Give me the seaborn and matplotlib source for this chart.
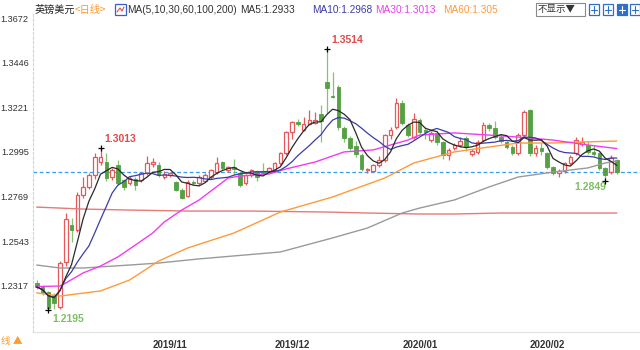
import numpy as np
import pandas as pd
import matplotlib
matplotlib.use("Agg")
import matplotlib.pyplot as plt
import matplotlib.lines as mlines
import seaborn as sns
from matplotlib.patches import Rectangle

# ---------------- data ----------------
opens = [1.2330, 1.2310, 1.2285, 1.2271, 1.2210, 1.2438, 1.2625, 1.2600, 1.2777, 1.2818,
         1.2878, 1.2945, 1.2945, 1.2868, 1.2929, 1.2853, 1.2838, 1.2860, 1.2853, 1.2888,
         1.2935, 1.2929, 1.2870, 1.2880, 1.2843, 1.2802, 1.2770, 1.2845, 1.2838, 1.2850,
         1.2868, 1.2893, 1.2944, 1.2903, 1.2918, 1.2888, 1.2838, 1.2878, 1.2898, 1.2900,
         1.2895, 1.2903, 1.2939, 1.2989, 1.3096, 1.3146, 1.3106, 1.3136, 1.3141, 1.3186,
         1.3348, 1.3280, 1.3323, 1.3116, 1.3065, 1.3025, 1.2980, 1.2905, 1.2900, 1.2929,
         1.2954, 1.3080, 1.3121, 1.3242, 1.3131, 1.3070, 1.3156, 1.3105, 1.3055, 1.3090,
         1.3045, 1.2979, 1.3015, 1.3030, 1.3065, 1.2985, 1.2995, 1.3055, 1.3131, 1.3116,
         1.3070, 1.3045, 1.3020, 1.2990, 1.3080, 1.3207, 1.2989, 1.3015, 1.2989, 1.2919,
         1.2888, 1.2900, 1.2939, 1.2989, 1.3035, 1.3030, 1.2995, 1.2989, 1.2914, 1.2893,
         1.2954]
highs = [1.2345, 1.2320, 1.2290, 1.2282, 1.2445, 1.2686, 1.2660, 1.2790, 1.2868, 1.2890,
         1.2990, 1.3013, 1.2990, 1.2915, 1.2954, 1.2860, 1.2875, 1.2870, 1.2895, 1.2975,
         1.2965, 1.2945, 1.2900, 1.2893, 1.2850, 1.2810, 1.2855, 1.2855, 1.2878, 1.2890,
         1.2910, 1.2969, 1.2950, 1.2925, 1.2959, 1.2895, 1.2885, 1.2910, 1.2905, 1.2939,
         1.2920, 1.2945, 1.2995, 1.3100, 1.3150, 1.3160, 1.3171, 1.3207, 1.3197, 1.3232,
         1.3514, 1.3399, 1.3333, 1.3125, 1.3075, 1.3050, 1.2990, 1.2915, 1.2935, 1.2975,
         1.3085, 1.3120, 1.3267, 1.3255, 1.3140, 1.3191, 1.3166, 1.3120, 1.3100, 1.3100,
         1.3050, 1.3015, 1.3040, 1.3070, 1.3075, 1.3010, 1.3055, 1.3146, 1.3140, 1.3150,
         1.3080, 1.3055, 1.3030, 1.3090, 1.3205, 1.3210, 1.3030, 1.3040, 1.2995, 1.2925,
         1.2910, 1.2945, 1.2980, 1.3070, 1.3070, 1.3050, 1.3030, 1.2995, 1.2920, 1.2980,
         1.2960]
lows = [1.2300, 1.2270, 1.2195, 1.2200, 1.2200, 1.2420, 1.2539, 1.2590, 1.2760, 1.2805,
        1.2860, 1.2930, 1.2850, 1.2855, 1.2830, 1.2800, 1.2830, 1.2802, 1.2845, 1.2880,
        1.2920, 1.2870, 1.2860, 1.2868, 1.2795, 1.2755, 1.2765, 1.2828, 1.2830, 1.2845,
        1.2860, 1.2885, 1.2905, 1.2895, 1.2880, 1.2820, 1.2830, 1.2870, 1.2850, 1.2885,
        1.2888, 1.2895, 1.2930, 1.2980, 1.3060, 1.3125, 1.3100, 1.3130, 1.3135, 1.3045,
        1.3192, 1.3268, 1.3106, 1.3045, 1.3005, 1.2970, 1.2900, 1.2890, 1.2895, 1.2920,
        1.2945, 1.3060, 1.3110, 1.3130, 1.3070, 1.3060, 1.3085, 1.3060, 1.3045, 1.3030,
        1.2960, 1.2955, 1.3005, 1.3020, 1.3000, 1.2975, 1.2985, 1.3045, 1.3100, 1.3060,
        1.3040, 1.3010, 1.2980, 1.2980, 1.3070, 1.2975, 1.2975, 1.2980, 1.2910, 1.2880,
        1.2870, 1.2890, 1.2930, 1.2980, 1.3025, 1.2985, 1.2975, 1.2905, 1.2849, 1.2885,
        1.2885]
closes = [1.2312, 1.2285, 1.2206, 1.2231, 1.2433, 1.2656, 1.2600, 1.2777, 1.2818, 1.2878,
          1.2969, 1.2970, 1.2863, 1.2904, 1.2838, 1.2818, 1.2863, 1.2828, 1.2888, 1.2939,
          1.2942, 1.2878, 1.2885, 1.2886, 1.2803, 1.2762, 1.2845, 1.2838, 1.2868, 1.2880,
          1.2903, 1.2939, 1.2914, 1.2918, 1.2910, 1.2828, 1.2878, 1.2903, 1.2868, 1.2890,
          1.2913, 1.2939, 1.2989, 1.3096, 1.3146, 1.3136, 1.3136, 1.3156, 1.3156, 1.3151,
          1.3318, 1.3273, 1.3121, 1.3065, 1.3015, 1.2985, 1.2909, 1.2910, 1.2929, 1.2954,
          1.3080, 1.3105, 1.3242, 1.3141, 1.3080, 1.3161, 1.3096, 1.3095, 1.3090, 1.3045,
          1.2979, 1.3004, 1.3030, 1.3050, 1.3020, 1.3000, 1.3045, 1.3131, 1.3116, 1.3070,
          1.3050, 1.3020, 1.2990, 1.3080, 1.3197, 1.2989, 1.3015, 1.3000, 1.2919, 1.2888,
          1.2900, 1.2939, 1.2970, 1.3055, 1.3045, 1.2995, 1.2985, 1.2914, 1.2878, 1.2964,
          1.2893]

# long moving averages read at sample candles
ma30_idx = [0, 4, 5, 8, 11, 14, 17, 20, 22, 25, 28, 33, 35, 40, 43, 48, 53, 58, 64, 66, 72, 78, 83, 89, 95, 100]
ma30_val = [1.2314, 1.2317, 1.2332, 1.2383, 1.2418, 1.2464, 1.2524, 1.2585, 1.2641, 1.2701,
            1.2752, 1.2863, 1.2873, 1.2883, 1.2909, 1.2944, 1.2995, 1.3005, 1.3055, 1.3080,
            1.3091, 1.3080, 1.3070, 1.3055, 1.3030, 1.3012]
ma60_idx = [0, 4, 11, 16, 21, 26, 34, 42, 51, 60, 65, 72, 78, 83, 89, 94, 100]
ma60_val = [1.2282, 1.2266, 1.2292, 1.2347, 1.2443, 1.2509, 1.2585, 1.2691, 1.2767, 1.2863,
            1.2939, 1.2995, 1.3020, 1.3040, 1.3040, 1.3045, 1.3050]
ma100_idx = [0, 4, 8, 16, 21, 28, 42, 51, 57, 63, 66, 72, 78, 83, 89, 95, 98, 100]
ma100_val = [1.2423, 1.2408, 1.2408, 1.2423, 1.2433, 1.2454, 1.2489, 1.2560, 1.2610, 1.2686,
             1.2711, 1.2752, 1.2818, 1.2868, 1.2893, 1.2914, 1.2939, 1.2949]
ma200_idx = [0, 8, 16, 26, 37, 50, 57, 66, 72, 80, 100]
ma200_val = [1.2716, 1.2706, 1.2701, 1.2696, 1.2696, 1.2691, 1.2686, 1.2681, 1.2681, 1.2686, 1.2686]

ytick_vals = [1.2317, 1.2543, 1.2769, 1.2995, 1.3221, 1.3446, 1.3672]
xtick_idx = [20, 41, 63, 85]
xtick_labels = ["2019/11", "2019/12", "2020/01", "2020/02"]
last_price = 1.2893

# ---------------- styling ----------------
sns.set_style("white")
plt.rcParams['font.family'] = ['Liberation Sans', 'Noto Sans CJK SC', 'DejaVu Sans']

RED = "#e8585b"
GREEN = "#55a043"
GREEN_W = "#86c271"

W, H = 640, 350
fig = plt.figure(figsize=(6.4, 3.5), dpi=100)
ax = fig.add_axes([33 / W, (H - 332) / H, 607 / W, (332 - 14) / H])

df = pd.DataFrame({"open": opens, "high": highs, "low": lows, "close": closes})
df["i"] = np.arange(len(df))
df["up"] = df["close"] >= df["open"]
df["top"] = df[["open", "close"]].max(axis=1)
df["bot"] = df[["open", "close"]].min(axis=1)

up = df[df["up"]]
dn = df[~df["up"]]

# wicks
ax.vlines(up["i"], up["top"], up["high"], color=RED, lw=0.9, zorder=3)
ax.vlines(up["i"], up["low"], up["bot"], color=RED, lw=0.9, zorder=3)
ax.vlines(dn["i"], dn["low"], dn["high"], color=GREEN_W, lw=0.9, zorder=3)
# bodies
bw = 0.62
ax.bar(up["i"], np.maximum(up["top"] - up["bot"], 0.0002), bottom=up["bot"], width=bw,
       color="white", edgecolor=RED, linewidth=0.9, zorder=4)
ax.bar(dn["i"], np.maximum(dn["top"] - dn["bot"], 0.0002), bottom=dn["bot"], width=bw,
       color=GREEN, edgecolor=GREEN, linewidth=0.6, zorder=4)

# moving averages
ma5 = df["close"].rolling(5, min_periods=1).mean()
ma10 = df["close"].rolling(10, min_periods=1).mean()
sns.lineplot(x=ma200_idx, y=ma200_val, ax=ax, color="#e57a78", lw=1.0, legend=False, zorder=5)
sns.lineplot(x=ma100_idx, y=ma100_val, ax=ax, color="#9a9a9a", lw=1.0, legend=False, zorder=5)
sns.lineplot(x=ma60_idx, y=ma60_val, ax=ax, color="#ff9a3a", lw=1.0, legend=False, zorder=5)
sns.lineplot(x=ma30_idx, y=ma30_val, ax=ax, color="#f03cf0", lw=1.0, legend=False, zorder=5)
sns.lineplot(x=df["i"], y=ma10, ax=ax, color="#3c3ca8", lw=0.9, legend=False, zorder=6)
sns.lineplot(x=df["i"], y=ma5, ax=ax, color="#2a2a2a", lw=0.9, legend=False, zorder=7)

# last price dashed line
ax.axhline(last_price, color="#3a9cf0", lw=0.9, ls=(0, (3, 2)), zorder=2)

# high / low markers
hi_all = int(np.argmax(highs))
hi_loc = int(np.argmax(highs[:30]))
lo_all = int(np.argmin(lows))
lo_loc = 80 + int(np.argmin(lows[80:]))
for k in (hi_all, hi_loc):
    ax.plot(k, highs[k], marker="+", color="black", ms=5, mew=0.9, zorder=8)
    ax.annotate(f"{highs[k]:.4f}", (k, highs[k]), xytext=(3, 3), textcoords="offset points",
                color="#e04a4a", fontsize=7.5, fontweight="bold", ha="left", va="bottom")
ax.plot(lo_all, lows[lo_all], marker="+", color="black", ms=5, mew=0.9, zorder=8)
ax.annotate(f"{lows[lo_all]:.4f}", (lo_all, lows[lo_all]), xytext=(3, -3), textcoords="offset points",
            color="#7fbf62", fontsize=7.5, fontweight="bold", ha="left", va="top")
ax.plot(lo_loc, lows[lo_loc], marker="+", color="black", ms=5, mew=0.9, zorder=8)
ax.annotate(f"{lows[lo_loc]:.4f}", (lo_loc, lows[lo_loc]), xytext=(1, -1), textcoords="offset points",
            color="#7fbf62", fontsize=7.5, fontweight="bold", ha="right", va="top")

# axes
ax.set_xlim(-0.64, 104.0)
ax.set_ylim(1.20844, 1.36923)
ax.set_yticks(ytick_vals)
ax.set_yticklabels([f"{v:.4f}" for v in ytick_vals])
ax.set_xticks(xtick_idx)
ax.set_xticklabels(xtick_labels, ha="left")
ax.tick_params(axis="y", length=2.5, width=0.8, color="#c8d0dc", labelsize=6.6, labelcolor="#333333", pad=0.5)
ax.tick_params(axis="x", length=3, width=0.8, color="#d0d0d0", labelsize=7, labelcolor="#333333", pad=3)
for lab in ax.get_xticklabels():
    lab.set_fontweight("bold")
ax.set_xlabel("")
ax.set_ylabel("")
for s in ("top", "right"):
    ax.spines[s].set_visible(False)
ax.spines["left"].set_color("#c8d4e2")
ax.spines["left"].set_linestyle((0, (2, 2)))
ax.spines["left"].set_linewidth(0.8)
ax.spines["bottom"].set_color("#e2e2e2")
ax.spines["bottom"].set_linewidth(0.8)
ax.grid(False)

# ---------------- header ----------------
def fx(x):
    return x / W

def fy(y):
    return 1 - y / H

cjk = ['Noto Sans CJK SC', 'DejaVu Sans']
fs = 7.3
fig.text(fx(35), fy(10), "英镑美元", family=cjk, fontsize=fs, color="#222222", va="center")
fig.text(fx(75), fy(10), "<日线>", family=cjk, fontsize=fs, color="#ff9a2e", va="center")
fig.patches.append(Rectangle((fx(115), fy(15)), 11 / W, 11 / H, transform=fig.transFigure,
                             facecolor="white", edgecolor="#3a5fc8", lw=0.9))
fig.lines.append(mlines.Line2D([fx(117), fx(120), fx(122), fx(124)],
                               [fy(12), fy(8), fy(11), fy(7)], transform=fig.transFigure,
                               color="#e04a4a", lw=0.8))
fig.text(fx(127), fy(10), "MA(5,10,30,60,100,200)", fontsize=fs, color="#333333", va="center")
fig.text(fx(240), fy(10), "MA5:1.2933", fontsize=fs, color="#333333", va="center")
fig.text(fx(312), fy(10), "MA10:1.2968", fontsize=fs, color="#3c3ca8", va="center")
fig.text(fx(375), fy(10), "MA30:1.3013", fontsize=fs, color="#f03cf0", va="center")
fig.text(fx(443), fy(10), "MA60:1.305", fontsize=fs, color="#ff9a3a", va="center")

# right side controls
fig.patches.append(Rectangle((fx(536), fy(16)), 49 / W, 13 / H, transform=fig.transFigure,
                             facecolor="white", edgecolor="#8a8a8a", lw=0.8))
fig.text(fx(538), fy(9.5), "不显示▼", family=cjk, fontsize=6.8, color="#333333", va="center")
for k, xx in enumerate([589, 603, 617, 630]):
    filled = (k == 2)
    fig.patches.append(Rectangle((fx(xx), fy(15)), 10 / W, 11 / H, transform=fig.transFigure,
                                 facecolor="#2f6fc8" if filled else "white",
                                 edgecolor="#2f6fc8", lw=0.9))
    fig.lines.append(mlines.Line2D([fx(xx + 2), fx(xx + 8)], [fy(9.5), fy(9.5)],
                                   transform=fig.transFigure,
                                   color="white" if filled else "#2f6fc8", lw=0.8))
    fig.lines.append(mlines.Line2D([fx(xx + 5), fx(xx + 5)], [fy(6), fy(13)],
                                   transform=fig.transFigure,
                                   color="white" if filled else "#2f6fc8", lw=0.8))

fig.text(fx(1), fy(341), "线 ▲", family=cjk, fontsize=7, color="#ff9a2e", va="center")

fig.savefig("out.png", dpi=100)
